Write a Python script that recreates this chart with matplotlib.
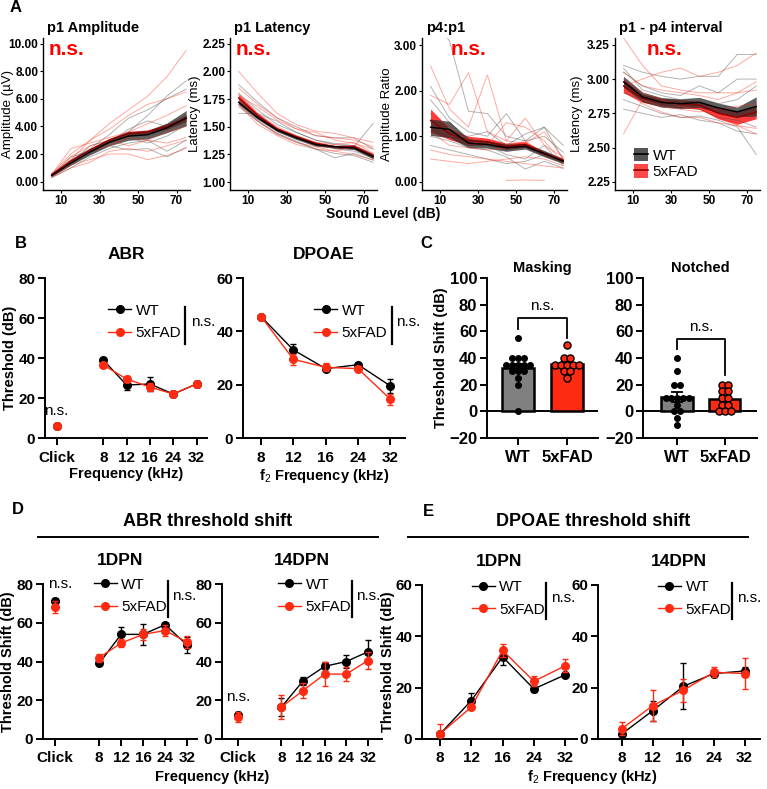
import numpy as np
import matplotlib
matplotlib.use("Agg")
import matplotlib.pyplot as plt
from matplotlib.lines import Line2D
from matplotlib.patches import Patch

plt.rcParams['font.family'] = ['Liberation Sans', 'DejaVu Sans']
plt.rcParams['mathtext.fontset'] = 'custom'
plt.rcParams['mathtext.rm'] = 'Liberation Sans'
plt.rcParams['mathtext.bf'] = 'Liberation Sans:bold'

W, H = 767, 789
RED = '#ff2a12'

# ---------------- panel A : sound level series ----------------
levels = [5, 15, 25, 35, 45, 55, 65, 75]

amp_wt_mean = [0.45, 1.35, 2.15, 2.85, 3.30, 3.40, 3.90, 4.60]
amp_wt_sem = [0.08, 0.15, 0.20, 0.25, 0.30, 0.30, 0.35, 0.55]
amp_fad_mean = [0.50, 1.50, 2.30, 3.00, 3.50, 3.60, 4.00, 4.60]
amp_fad_sem = [0.07, 0.10, 0.12, 0.15, 0.15, 0.15, 0.20, 0.25]
amp_wt_ind = [
    [0.4, 1.2, 2.0, 3.0, 3.6, 4.8, 6.2, 7.3],
    [0.5, 1.6, 2.4, 3.4, 4.6, 5.2, 6.0, 6.7],
    [0.3, 1.0, 1.8, 2.4, 2.8, 3.0, 2.2, 3.0],
    [0.4, 1.4, 2.6, 3.0, 3.2, 2.8, 3.3, 4.1],
    [0.5, 1.8, 2.2, 2.6, 2.3, 2.4, 1.8, 2.5],
    [0.6, 1.3, 2.0, 2.8, 3.8, 4.4, 4.0, 4.8],
]
amp_fad_ind = [
    [0.5, 1.6, 3.0, 4.2, 5.2, 6.2, 7.6, 9.5],
    [0.6, 2.0, 3.0, 3.8, 4.8, 5.6, 6.0, 6.5],
    [0.4, 1.2, 1.6, 2.0, 2.0, 1.6, 1.9, 2.4],
    [0.5, 1.8, 2.6, 3.0, 2.6, 3.0, 2.8, 3.2],
    [0.4, 1.4, 2.2, 2.6, 3.2, 3.0, 3.6, 4.0],
    [0.5, 2.4, 2.8, 3.2, 3.6, 4.2, 4.8, 5.5],
    [0.3, 1.0, 1.4, 2.2, 2.4, 2.2, 2.6, 3.0],
]

lat_wt_mean = [1.72, 1.58, 1.47, 1.40, 1.34, 1.32, 1.31, 1.23]
lat_wt_sem = [0.02, 0.015, 0.015, 0.015, 0.015, 0.012, 0.015, 0.02]
lat_fad_mean = [1.76, 1.60, 1.48, 1.41, 1.35, 1.32, 1.32, 1.24]
lat_fad_sem = [0.03, 0.02, 0.015, 0.015, 0.015, 0.012, 0.02, 0.02]
lat_wt_ind = [
    [1.88, 1.72, 1.58, 1.50, 1.42, 1.40, 1.40, 1.30],
    [1.62, 1.62, 1.55, 1.45, 1.38, 1.34, 1.32, 1.53],
    [1.70, 1.55, 1.44, 1.37, 1.30, 1.26, 1.24, 1.18],
    [1.75, 1.60, 1.48, 1.40, 1.35, 1.30, 1.28, 1.22],
    [1.80, 1.65, 1.52, 1.45, 1.38, 1.35, 1.33, 1.25],
    [1.68, 1.55, 1.43, 1.36, 1.30, 1.22, 1.26, 1.20],
]
lat_fad_ind = [
    [2.00, 1.80, 1.62, 1.52, 1.46, 1.44, 1.40, 1.36],
    [1.78, 1.68, 1.56, 1.48, 1.42, 1.40, 1.38, 1.32],
    [1.72, 1.55, 1.44, 1.36, 1.32, 1.28, 1.32, 1.24],
    [1.85, 1.70, 1.58, 1.48, 1.45, 1.38, 1.35, 1.30],
    [1.70, 1.52, 1.42, 1.34, 1.30, 1.28, 1.25, 1.20],
    [1.80, 1.62, 1.50, 1.42, 1.36, 1.34, 1.36, 1.26],
]

rat_wt_mean = [1.20, 1.15, 0.85, 0.82, 0.75, 0.78, 0.62, 0.45]
rat_wt_sem = [0.18, 0.18, 0.10, 0.08, 0.08, 0.06, 0.07, 0.05]
rat_fad_mean = [1.35, 1.05, 0.90, 0.88, 0.78, 0.82, 0.62, 0.47]
rat_fad_sem = [0.25, 0.12, 0.10, 0.08, 0.07, 0.06, 0.05, 0.05]
rat_wt_ind = [
    [3.60, 3.10, 1.55, 1.50, 1.00, 0.90, 1.00, 0.65],
    [2.10, 1.40, 1.10, 1.00, 1.50, 0.90, 1.20, 0.50],
    [1.80, 1.30, 0.90, 0.80, 0.60, 0.50, 0.80, 0.35],
    [1.00, 0.90, 0.75, 0.70, 0.55, 0.28, 0.45, 0.30],
    [0.80, 0.70, 0.60, 0.50, 0.40, 0.45, 0.60, 0.40],
    [1.30, 1.00, 1.00, 1.10, 0.80, 1.05, 1.20, 0.80],
]
rat_fad_ind = [
    [2.55, 1.60, 1.20, 2.35, 0.90, 0.85, 1.10, 0.50],
    [1.90, 1.70, 2.40, 1.10, 0.90, 1.40, 0.80, 0.55],
    [0.70, 0.60, 0.55, 0.50, 0.45, 0.40, 0.35, 0.30],
    [1.50, 1.20, 0.90, 0.80, 1.30, 1.20, 0.90, 0.40],
    [0.50, 0.45, 0.40, 0.45, 0.50, 0.55, 0.50, 0.35],
    [1.10, 0.80, 0.75, 0.70, 0.75, 0.90, 0.60, 0.45],
    [np.nan, np.nan, np.nan, np.nan, 0.03, 0.04, 0.03, np.nan],
]

int_wt_mean = [2.98, 2.87, 2.83, 2.82, 2.83, 2.79, 2.76, 2.80]
int_wt_sem = [0.04, 0.035, 0.035, 0.035, 0.035, 0.035, 0.035, 0.07]
int_fad_mean = [2.95, 2.86, 2.83, 2.82, 2.81, 2.75, 2.72, 2.76]
int_fad_sem = [0.05, 0.03, 0.03, 0.03, 0.03, 0.04, 0.05, 0.05]
int_wt_ind = [
    [3.10, 3.05, 3.02, 3.00, 3.02, 3.02, 3.18, 3.18],
    [3.05, 2.95, 2.90, 2.88, 2.95, 2.90, 3.00, 3.00],
    [2.85, 2.80, 2.75, 2.72, 2.73, 2.70, 2.65, 2.45],
    [2.90, 2.85, 2.80, 2.80, 2.78, 2.72, 2.70, 2.65],
    [2.78, 2.75, 2.72, 2.74, 2.70, 2.68, 2.62, 2.60],
    [3.08, 2.92, 2.88, 2.85, 2.86, 2.82, 2.85, 2.95],
]
int_fad_ind = [
    [3.30, 3.10, 2.95, 2.92, 2.90, 2.90, 2.90, 2.98],
    [2.60, 2.85, 2.80, 2.78, 2.76, 2.78, 2.80, 2.82],
    [2.95, 3.00, 3.05, 3.08, 3.02, 3.05, 3.10, 3.19],
    [3.00, 2.90, 2.85, 2.80, 2.78, 2.72, 2.66, 2.60],
    [2.92, 2.82, 2.76, 2.72, 2.72, 2.68, 2.66, 2.64],
    [3.05, 2.95, 2.92, 2.90, 2.88, 2.85, 2.90, 2.92],
]

# ---------------- panel B ----------------
abr_labels = ['Click', '8', '12', '16', '24', '32']
abr_pos = [0, 2, 3, 4, 5, 6]
abr_wt = [6, 39, 26.5, 27, 22, 27]
abr_wt_err = [0.8, 1, 2.5, 3.5, 1, 1.5]
abr_fad = [6, 36.5, 29.5, 25.5, 22, 27]
abr_fad_err = [1, 1, 1.5, 2, 1.5, 1.5]

dp_labels = ['8', '12', '16', '24', '32']
dp_pos = [0, 1, 2, 3, 4]
dp_wt = [45.5, 33, 26, 27.5, 19.5]
dp_wt_err = [0.5, 2.2, 1, 0.8, 2.5]
dp_fad = [45.5, 29.5, 26.5, 26, 14.5]
dp_fad_err = [0.5, 2, 1.5, 1, 2]

# ---------------- panel C ----------------
mask_wt = [55, 40, 40, 40, 35, 35, 35, 35, 35, 30, 30, 30, 25, 20, 0]
mask_fad = [50, 40, 40, 35, 35, 35, 35, 35, 30, 30, 25]
notch_wt = [40, 30, 20, 20, 10, 10, 10, 10, 10, 5, 0, 0, -5, -10]
notch_fad = [20, 20, 15, 15, 10, 10, 5, 5, 0, 0, 0]

# ---------------- panel D ----------------
d1_wt = [71, 39, 54, 54, 59, 48.5]
d1_wt_err = [2, 1, 4, 5.5, 1, 4]
d1_fad = [68, 42, 49.5, 54, 56, 50]
d1_fad_err = [3, 2, 2, 3, 3, 3]
d14_wt = [12.5, 16.5, 30, 37.5, 40, 45]
d14_wt_err = [1.5, 4.5, 2, 2.5, 3.5, 6]
d14_fad = [11.5, 16.5, 25, 33.5, 33.5, 40.5]
d14_fad_err = [2.5, 6, 4, 6, 3.5, 4.5]

# ---------------- panel E ----------------
e1_wt = [2, 15, 32, 19.5, 25]
e1_wt_err = [0.5, 3, 3, 1, 1]
e1_fad = [2, 12.5, 34.5, 22.5, 28.5]
e1_fad_err = [4, 1, 2.5, 2, 2.5]
e14_wt = [2, 11, 20.5, 25.5, 26.5]
e14_wt_err = [2, 4, 9, 1.5, 1.5]
e14_fad = [4, 13, 19, 26, 25.5]
e14_fad_err = [2.5, 6, 4.5, 2, 6]


fig = plt.figure(figsize=(W / 100, H / 100), dpi=100)


def add_ax(x0, y0, x1, y1):
    # pixel box -> figure fraction
    return fig.add_axes([x0 / W, 1 - y1 / H, (x1 - x0) / W, (y1 - y0) / H])


def style_a(ax, ylim, yticks, fmt):
    for s in ['top', 'right']:
        ax.spines[s].set_visible(False)
    for s in ['left', 'bottom']:
        ax.spines[s].set_linewidth(1.0)
    ax.set_xlim(0.5, 77)
    ax.set_ylim(*ylim)
    ax.set_xticks([10, 30, 50, 70])
    ax.set_yticks(yticks)
    ax.set_yticklabels([fmt % v for v in yticks])
    ax.tick_params(length=2.5, width=0.8, labelsize=8.5, pad=1)
    for lab in ax.get_xticklabels() + ax.get_yticklabels():
        lab.set_fontweight('bold')


def panel_a(box, title, ylabel, ind_wt, ind_fad, wt_m, wt_s, fad_m, fad_s, ylim, yticks, ns_x, lab_x):
    ax = add_ax(*box)
    for tr in ind_wt:
        ax.plot(levels, tr, color='#555555', lw=0.7, alpha=0.45)
    for tr in ind_fad:
        ax.plot(levels, tr, color=RED, lw=0.7, alpha=0.4)
    wm, ws = np.array(wt_m), np.array(wt_s)
    fm, fs = np.array(fad_m), np.array(fad_s)
    ax.fill_between(levels, fm - fs, fm + fs, color='#ff1a1a', alpha=0.85, lw=0)
    ax.fill_between(levels, wm - ws, wm + ws, color='#2a2a2a', alpha=0.75, lw=0)
    ax.plot(levels, fm, color='#8b0000', lw=1.0)
    ax.plot(levels, wm, color='black', lw=1.0)
    style_a(ax, ylim, yticks, '%.2f')
    ax.set_title(title, loc='left', fontsize=10.5, fontweight='bold', pad=4, x=0.03)
    ax.set_ylabel(ylabel, fontsize=9.5)
    ax.yaxis.set_label_coords(lab_x, 0.5)
    ax.text(ns_x, 0.985, 'n.s.', transform=ax.transAxes, color='#ff0000',
            fontsize=15, fontweight='bold', va='top')
    return ax


panel_a((43, 38, 190, 190), 'p1 Amplitude', 'Amplitude (µV)', amp_wt_ind, amp_fad_ind,
        amp_wt_mean, amp_wt_sem, amp_fad_mean, amp_fad_sem,
        (-0.6, 10.4), [0, 2, 4, 6, 8, 10], 0.04, -0.2)
panel_a((230, 38, 377, 190), 'p1 Latency', 'Latency (ms)', lat_wt_ind, lat_fad_ind,
        lat_wt_mean, lat_wt_sem, lat_fad_mean, lat_fad_sem,
        (0.93, 2.30), [1.0, 1.25, 1.5, 1.75, 2.0, 2.25], 0.04, -0.2)
panel_a((422, 38, 567, 190), 'p4:p1', 'Amplitude Ratio', rat_wt_ind, rat_fad_ind,
        rat_wt_mean, rat_wt_sem, rat_fad_mean, rat_fad_sem,
        (-0.18, 3.16), [0, 1, 2, 3], 0.2, -0.2)
ax4 = panel_a((615, 38, 760, 190), 'p1 - p4 interval', 'Latency (ms)', int_wt_ind, int_fad_ind,
              int_wt_mean, int_wt_sem, int_fad_mean, int_fad_sem,
              (2.19, 3.30), [2.25, 2.5, 2.75, 3.0, 3.25], 0.22, -0.22)
h_wt = (Patch(facecolor='#2a2a2a', alpha=0.8), Line2D([], [], color='black', lw=1.2))
h_fad = (Patch(facecolor='#ff1a1a', alpha=0.8), Line2D([], [], color='#8b0000', lw=1.2))
ax4.legend([h_wt, h_fad], ['WT', '5xFAD'], loc='lower left', bbox_to_anchor=(0.08, 0.02),
           frameon=False, fontsize=11, handlelength=0.9, handleheight=1.0,
           handletextpad=0.3, labelspacing=0.1, borderpad=0)

fig.text(383 / W, 1 - 214 / H, 'Sound Level (dB)', ha='center', va='center',
         fontsize=10, fontweight='bold')


# ---------------- prism style helpers ----------------
def style_prism(ax, xlim, ylim, yticks, xpos, xlabels, tick_fs=11):
    for s in ['top', 'right']:
        ax.spines[s].set_visible(False)
    for s in ['left', 'bottom']:
        ax.spines[s].set_linewidth(1.4)
    ax.set_xlim(*xlim)
    ax.set_ylim(*ylim)
    ax.set_yticks(yticks)
    ax.set_xticks(xpos)
    ax.set_xticklabels(xlabels)
    ax.tick_params(length=5, width=1.4, labelsize=tick_fs)
    ax.tick_params(axis='x', pad=4)
    ax.tick_params(axis='y', pad=2)
    for lab in ax.get_xticklabels() + ax.get_yticklabels():
        lab.set_fontweight('bold')


def draw_groups(ax, xpos, wt, wt_err, fad, fad_err, sep_first=False):
    xpos = list(xpos)
    i0 = 1 if sep_first else 0
    kw = dict(marker='o', ms=5.5, lw=1.0, capsize=2.5, elinewidth=1.0, capthick=1.0)
    ax.errorbar(xpos[i0:], wt[i0:], yerr=wt_err[i0:], color='black', zorder=3, **kw)
    ax.errorbar(xpos[i0:], fad[i0:], yerr=fad_err[i0:], color=RED, zorder=4, **kw)
    if sep_first:
        ax.errorbar(xpos[:1], wt[:1], yerr=wt_err[:1], color='black', ls='none', zorder=3, **kw)
        ax.errorbar(xpos[:1], fad[:1], yerr=fad_err[:1], color=RED, ls='none', zorder=4, **kw)


def group_legend(ax, x, y, bar_x, ns_x):
    hw = Line2D([], [], color='black', marker='o', ms=5.5, lw=1.0)
    hf = Line2D([], [], color=RED, marker='o', ms=5.5, lw=1.0)
    ax.legend([hw, hf], ['WT', '5xFAD'], loc='upper left', bbox_to_anchor=(x, y),
              frameon=False, fontsize=11, handlelength=1.5, handletextpad=0.3,
              labelspacing=0.55, borderpad=0, borderaxespad=0)
    ax.plot([bar_x, bar_x], [y - 0.02, y - 0.25], color='black', lw=1.6,
            transform=ax.transAxes, clip_on=False)
    ax.text(ns_x, y - 0.115, 'n.s.', transform=ax.transAxes, fontsize=11, va='center')


# ---------------- panel B ----------------
fig.text(15 / W, 1 - 243 / H, 'B', fontsize=12, fontweight='bold', va='center')
axb1 = add_ax(45, 278, 207, 438)
draw_groups(axb1, abr_pos, abr_wt, abr_wt_err, abr_fad, abr_fad_err, sep_first=True)
style_prism(axb1, (-0.5, 6.45), (0, 80), [0, 20, 40, 60, 80], abr_pos, abr_labels)
axb1.set_title('ABR', fontsize=12.5, fontweight='bold', pad=14)
axb1.set_ylabel('Threshold (dB)', fontsize=10.5, fontweight='bold', labelpad=1)
axb1.set_xlabel('Frequency (kHz)', fontsize=10.5, fontweight='bold', labelpad=2)
axb1.text(0, 10, 'n.s.', fontsize=11, ha='center', va='bottom')
group_legend(axb1, 0.39, 0.84, 0.865, 0.9)

axb2 = add_ax(243, 278, 405, 438)
draw_groups(axb2, dp_pos, dp_wt, dp_wt_err, dp_fad, dp_fad_err)
style_prism(axb2, (-0.56, 4.45), (0, 60), [0, 20, 40, 60], dp_pos, dp_labels)
axb2.set_title('DPOAE', fontsize=12.5, fontweight='bold', pad=14)
axb2.set_xlabel('f$_2$ Frequency (kHz)', fontsize=10.5, fontweight='bold', labelpad=2)
group_legend(axb2, 0.44, 0.84, 0.92, 0.945)


# ---------------- panel C ----------------
def swarm_x(vals, center, step=0.12):
    vals = np.asarray(vals, dtype=float)
    xs = np.zeros_like(vals)
    for v in np.unique(vals):
        idx = np.where(vals == v)[0]
        n = len(idx)
        xs[idx] = center + (np.arange(n) - (n - 1) / 2) * step
    return xs


def panel_c(box, title, wt, fad, xlim, br):
    ax = add_ax(*box)
    pos = [0, 1]
    means = [np.mean(wt), np.mean(fad)]
    sems = [np.std(wt, ddof=1) / np.sqrt(len(wt)), np.std(fad, ddof=1) / np.sqrt(len(fad))]
    ax.bar(pos, means, width=0.65, color=['#808080', RED], edgecolor='black', lw=1.8, zorder=2)
    ax.errorbar(pos, means, yerr=sems, fmt='none', ecolor='black', elinewidth=1.3,
                capsize=4, capthick=1.3, zorder=3)
    ax.scatter(swarm_x(wt, 0), wt, s=16, color='black', zorder=4)
    ax.scatter(swarm_x(fad, 1), fad, s=26, color=RED, edgecolor='black', lw=1.0, zorder=4)
    ax.axhline(0, color='black', lw=1.4, zorder=1)
    style_prism(ax, xlim, (-20, 100), [-20, 0, 20, 40, 60, 80, 100], pos, ['WT', '5xFAD'], tick_fs=12)
    ax.set_title(title, fontsize=10.5, fontweight='bold', pad=4)
    top, l_end, r_end = br
    ax.plot([0, 0, 1, 1], [l_end, top, top, r_end], color='black', lw=1.3, zorder=5)
    ax.text(0.5, top + 4, 'n.s.', ha='center', va='bottom', fontsize=11)
    return ax


fig.text(420 / W, 1 - 243 / H, 'C', fontsize=12, fontweight='bold', va='center')
axc1 = panel_c((487, 278, 598, 438), 'Masking', mask_wt, mask_fad, (-0.63, 1.63), (70, 62, 55))
axc1.set_ylabel('Threshold Shift (dB)', fontsize=10.5, fontweight='bold', labelpad=1)
panel_c((643, 278, 757, 438), 'Notched', notch_wt, notch_fad, (-0.71, 1.67), (54, 47, 27))


# ---------------- panel D ----------------
fig.text(12 / W, 1 - 510 / H, 'D', fontsize=12, fontweight='bold', va='center')
fig.text(208 / W, 1 - 522 / H, 'ABR threshold shift', ha='center', va='center',
         fontsize=13, fontweight='bold')
fig.add_artist(Line2D([38 / W, 378 / W], [1 - 537 / H, 1 - 537 / H], color='black', lw=1.4))

axd1 = add_ax(43, 584, 197, 739)
draw_groups(axd1, abr_pos, d1_wt, d1_wt_err, d1_fad, d1_fad_err, sep_first=True)
style_prism(axd1, (-0.55, 6.45), (0, 80), [0, 20, 40, 60, 80], abr_pos, abr_labels)
axd1.set_title('1DPN', fontsize=12.5, fontweight='bold', pad=14)
axd1.set_ylabel('Threshold Shift (dB)', fontsize=10.5, fontweight='bold', labelpad=1)
axd1.text(0.03, 1.0, 'n.s.', transform=axd1.transAxes, fontsize=11, va='center')
group_legend(axd1, 0.33, 1.04, 0.81, 0.84)

axd2 = add_ax(222, 584, 382, 739)
draw_groups(axd2, abr_pos, d14_wt, d14_wt_err, d14_fad, d14_fad_err, sep_first=True)
style_prism(axd2, (-0.75, 6.65), (0, 80), [0, 20, 40, 60, 80], abr_pos, abr_labels)
axd2.set_title('14DPN', fontsize=12.5, fontweight='bold', pad=14)
axd2.text(0, 18, 'n.s.', fontsize=11, ha='center', va='bottom')
fig.text(212 / W, 1 - 777 / H, 'Frequency (kHz)', ha='center', va='center',
         fontsize=10.5, fontweight='bold')
group_legend(axd2, 0.35, 1.04, 0.81, 0.835)


# ---------------- panel E ----------------
fig.text(423 / W, 1 - 512 / H, 'E', fontsize=12, fontweight='bold', va='center')
fig.text(593 / W, 1 - 522 / H, 'DPOAE threshold shift', ha='center', va='center',
         fontsize=13, fontweight='bold')
fig.add_artist(Line2D([408 / W, 748 / W], [1 - 537 / H, 1 - 537 / H], color='black', lw=1.4))

axe1 = add_ax(422, 585, 577, 739)
draw_groups(axe1, dp_pos, e1_wt, e1_wt_err, e1_fad, e1_fad_err)
style_prism(axe1, (-0.58, 4.38), (0, 60), [0, 20, 40, 60], dp_pos, dp_labels)
axe1.set_title('1DPN', fontsize=12.5, fontweight='bold', pad=14)
axe1.set_ylabel('Threshold Shift (dB)', fontsize=10.5, fontweight='bold', labelpad=0)
group_legend(axe1, 0.32, 1.03, 0.80, 0.83)

axe2 = add_ax(598, 585, 760, 739)
draw_groups(axe2, dp_pos, e14_wt, e14_wt_err, e14_fad, e14_fad_err)
style_prism(axe2, (-0.78, 4.5), (0, 60), [0, 20, 40, 60], dp_pos, dp_labels)
axe2.set_title('14DPN', fontsize=12.5, fontweight='bold', pad=14)
fig.text(592 / W, 1 - 777 / H, 'f$_2$ Frequency (kHz)', ha='center', va='center',
         fontsize=10.5, fontweight='bold')
group_legend(axe2, 0.37, 1.03, 0.83, 0.86)

fig.text(10 / W, 1 - 8 / H, 'A', fontsize=12, fontweight='bold', va='center')

fig.savefig('out.png', dpi=100)
